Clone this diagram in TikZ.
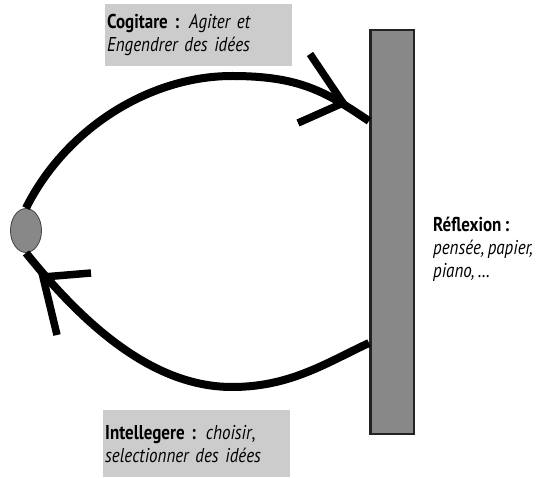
\documentclass[tikz,border=0pt]{standalone}
\usepackage{fontspec}
\setmainfont{PT Sans}[FakeStretch=0.85,WordSpace=0.75]
\usetikzlibrary{shapes.geometric}
\definecolor{grismur}{HTML}{888888}
\definecolor{grisboite}{HTML}{CCCCCC}
\definecolor{bordmur}{HTML}{222222}

\begin{document}
\begin{tikzpicture}[x=1pt,y=-1pt,
    boite/.style={fill=grisboite,text width=183pt,inner xsep=2pt,inner ysep=0pt,
      align=left,anchor=north west,font=\fontsize{20}{23}\selectfont},
    texte/.style={align=left,anchor=north west,inner sep=0pt,
      font=\fontsize{20}{23}\selectfont},
    fleche/.style={line width=8pt},
    barbe/.style={line width=7.5pt,line join=miter}]
  \useasboundingbox (0,0) rectangle (543,478);

  \node[draw=bordmur,line width=2.5pt,fill=grismur,minimum width=43.5pt,
    minimum height=403.5pt,inner sep=0pt] (mur) at (392,232) {};
  \node[ellipse,draw=black!75,line width=0.8pt,fill=grismur,minimum width=31pt,
    minimum height=44pt,inner sep=0pt] (tete) at (26,230.5) {};

  \node[boite,minimum height=62pt] (cogitare) at (105,4)
    {\textbf{Cogitare :} \textit{Agiter et}\\ \textit{Engendrer des idées}};
  \node[boite,minimum height=67pt] (intellegere) at (103,410)
    {\textbf{Intellegere :} \textit{choisir},\\ \textit{selectionner des idées}};
  \node[texte] (reflexion) at (433,217)
    {\textbf{Réflexion :}\\ \textit{pensée, papier,}\\ \textit{piano, …}};

  \begin{scope}[fleche]
    \draw (tete.north) .. controls (66,128) and (150,76) .. (232,76)
      .. controls (300,76) and (326,92) .. ([yshift=111pt]mur.west);
    \draw ([yshift=-111pt]mur.west) .. controls (326,363) and (290,387) .. (232,387)
      .. controls (150,387) and (80,320) .. (tete.south);
  \end{scope}
  \draw[barbe] (310,54) -- (343,103) -- (298,123);
  \draw[barbe] (91,273) -- (43,277) -- (57,335);
\end{tikzpicture}
\end{document}
